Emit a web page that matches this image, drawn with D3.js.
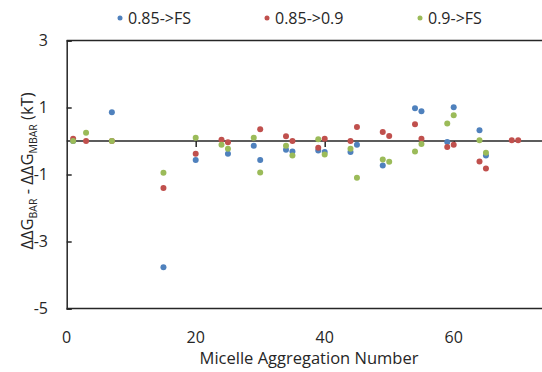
<!DOCTYPE html>
<html>
<head>
<meta charset="utf-8">
<script src="https://cdn.jsdelivr.net/npm/d3@7"></script>
<style>
  body { margin: 0; background: #fff; }
  svg { display: block; font-family: "Open Sans", Lato, sans-serif; }
</style>
</head>
<body>
<svg id="chart" width="542" height="372"></svg>
<script>
// series names
const seriesNames = ['0.85->FS', '0.85->0.9', '0.9->FS']
const seriesColors = ['#4f81bd', '#c0504d', '#9bbb59']

// 0.85->FS
const fsX = [1, 7, 15, 20, 25, 29, 30, 34, 35, 39, 40, 44, 45, 49, 54, 55, 59, 60, 64, 65]
const fsY = [0, 0.86, -3.77, -0.57, -0.38, -0.14, -0.57, -0.26, -0.31, -0.28, -0.33, -0.33, -0.11, -0.73, 0.98, 0.89, -0.03, 1.01, 0.32, -0.43]

// 0.85->0.9
const mdX = [1, 3, 7, 15, 20, 24, 25, 30, 34, 35, 39, 40, 44, 45, 49, 50, 54, 55, 59, 60, 64, 65, 69, 70]
const mdY = [0.07, 0, 0, -1.4, -0.38, 0.04, -0.04, 0.35, 0.14, 0, -0.2, 0.07, 0, 0.42, 0.27, 0.15, 0.5, 0.07, -0.18, -0.11, -0.61, -0.82, 0.02, 0.02]

// 0.9->FS
const gX = [1, 3, 7, 15, 20, 24, 25, 29, 30, 34, 35, 39, 40, 44, 45, 49, 50, 54, 55, 59, 60, 64, 65]
const gY = [0, 0.25, 0, -0.95, 0.1, -0.11, -0.23, 0.1, -0.94, -0.14, -0.43, 0.05, -0.4, -0.23, -1.1, -0.55, -0.62, -0.31, -0.09, 0.52, 0.77, 0.02, -0.35]

const xTicks = [0, 20, 40, 60]
const yTicks = [3, 1, -1, -3, -5]

const series = [
  seriesNames[0], seriesNames[1], seriesNames[2]
].map((name, i) => {
  let xs = [fsX, mdX, gX][i]
  let ys = [fsY, mdY, gY][i]
  return { name: name, color: seriesColors[i], points: xs.map((x, j) => ({ x: x, y: ys[j] })) }
})

let svg = d3.select('#chart')

let x = d3.scaleLinear().domain([0, 80]).range([66.7, 582.7])
let y = d3.scaleLinear().domain([-5, 3]).range([308.5, 40.5])

// frame lines: top, bottom
svg.append('line')
  .attr('x1', x(0)).attr('x2', 542)
  .attr('y1', y(3)).attr('y2', y(3))
  .attr('stroke', '#262626').attr('stroke-width', 1.5)
svg.append('line')
  .attr('x1', x(0)).attr('x2', 542)
  .attr('y1', y(-5)).attr('y2', y(-5))
  .attr('stroke', '#262626').attr('stroke-width', 1.5)

// y axis with inside ticks
let yAxis = svg.append('g')
  .attr('transform', 'translate(' + x(0) + ',0)')
  .call(d3.axisRight(y).tickValues(yTicks).tickSize(5).tickFormat(''))
yAxis.select('.domain').attr('stroke', '#262626').attr('stroke-width', 1.5)
yAxis.selectAll('.tick line').attr('stroke', '#262626').attr('stroke-width', 1.5)

svg.append('g').selectAll('text')
  .data(yTicks)
  .enter()
  .append('text')
  .attr('x', 48)
  .attr('y', (d) => y(d))
  .attr('dy', '0.35em')
  .attr('text-anchor', 'end')
  .attr('font-size', 16)
  .attr('fill', '#262626')
  .text((d) => d)

// x axis along y = 0
let xAxis = svg.append('g')
  .attr('transform', 'translate(0,' + y(0) + ')')
  .call(d3.axisBottom(x).tickValues(xTicks.slice(1)).tickSize(6).tickFormat(''))
xAxis.select('.domain').remove()
xAxis.selectAll('.tick line').attr('stroke', '#262626').attr('stroke-width', 1.5)
svg.append('line')
  .attr('x1', x(0)).attr('x2', 542)
  .attr('y1', y(0)).attr('y2', y(0))
  .attr('stroke', '#262626').attr('stroke-width', 1.5)

svg.append('g').selectAll('text')
  .data(xTicks)
  .enter()
  .append('text')
  .attr('x', (d) => x(d))
  .attr('y', 337)
  .attr('dy', '0.35em')
  .attr('text-anchor', 'middle')
  .attr('font-size', 16)
  .attr('fill', '#262626')
  .text((d) => d)

// points
series.forEach((s) => {
  svg.append('g').selectAll('circle')
    .data(s.points)
    .enter()
    .append('circle')
    .attr('cx', (d) => x(d.x))
    .attr('cy', (d) => y(d.y))
    .attr('r', 3)
    .attr('fill', s.color)
})

// axis titles
svg.append('text')
  .attr('x', 309)
  .attr('y', 364)
  .attr('text-anchor', 'middle')
  .attr('font-size', 16.5)
  .attr('fill', '#262626')
  .text('Micelle Aggregation Number')

let yt = svg.append('text')
  .attr('transform', 'translate(27,171) rotate(-90)')
  .attr('text-anchor', 'middle')
  .attr('dy', '0.35em')
  .attr('font-size', 16.5)
  .attr('fill', '#262626')
yt.append('tspan').text('ΔΔG')
yt.append('tspan').attr('font-size', 10.5).attr('dy', 4).text('BAR')
yt.append('tspan').attr('dy', -4).text(' - ΔΔG')
yt.append('tspan').attr('font-size', 10.5).attr('dy', 4).text('MBAR')
yt.append('tspan').attr('dy', -4).text(' (kT)')

// legend
let legendX = [120, 267, 420]
let legend = svg.append('g').selectAll('g')
  .data(series)
  .enter()
  .append('g')
  .attr('transform', (d, i) => 'translate(' + legendX[i] + ',18)')
legend.append('circle').attr('r', 2.5).attr('fill', (d) => d.color)
legend.append('text')
  .attr('x', 8)
  .attr('dy', '0.35em')
  .attr('font-size', 16)
  .attr('fill', '#262626')
  .text((d) => d.name)
</script>
</body>
</html>
